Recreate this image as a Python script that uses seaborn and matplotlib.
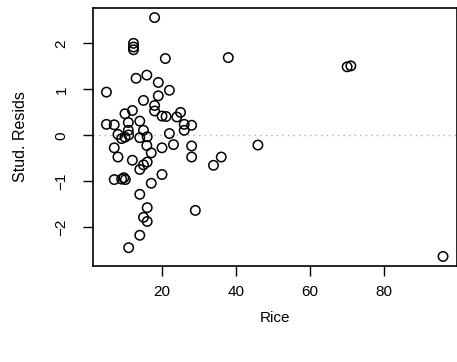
import matplotlib
matplotlib.use("Agg")
import matplotlib.pyplot as plt
import seaborn as sns
import pandas as pd

rice = [18.0, 12.3, 12.3, 12.3, 20.9, 13.0, 15.9, 19.0, 5.0, 22.0,
        15.0, 19.0, 18.0, 18.0, 12.0, 10.0, 20.0, 21.1, 25.0, 24.0,
        14.0, 10.9, 5.0, 7.1, 10.9, 15.0, 26.0, 28.0, 26.0, 8.1,
        9.1, 10.0, 11.0, 14.0, 16.0, 22.0, 7.1, 15.9, 20.0, 23.1,
        28.0, 8.1, 17.1, 12.0, 28.0, 16.0, 15.0, 14.0, 20.0, 7.1,
        9.1, 9.7, 10.1, 17.1, 14.0, 16.0, 15.0, 16.0, 14.0, 11.0,
        29.0, 37.9, 70.0, 71.0, 33.9, 36.0, 45.9, 95.9]
stud_resids = [2.56, 2.00, 1.92, 1.86, 1.67, 1.24, 1.31, 1.15, 0.94, 0.98,
               0.76, 0.86, 0.65, 0.53, 0.54, 0.47, 0.42, 0.41, 0.50, 0.40,
               0.31, 0.28, 0.24, 0.23, 0.11, 0.11, 0.24, 0.22, 0.11, 0.02,
               -0.07, -0.04, 0.01, -0.05, -0.03, 0.04, -0.27, -0.22, -0.27, -0.20,
               -0.23, -0.47, -0.38, -0.54, -0.47, -0.58, -0.64, -0.74, -0.85, -0.96,
               -0.95, -0.92, -0.96, -1.04, -1.28, -1.57, -1.78, -1.87, -2.17, -2.44,
               -1.63, 1.69, 1.49, 1.51, -0.65, -0.47, -0.21, -2.63]
x_ticks = [20, 40, 60, 80]
y_ticks = [-2, -1, 0, 1, 2]

sns.set_style("ticks")
plt.rcParams['font.family'] = ['Liberation Sans', 'DejaVu Sans']
plt.rcParams['text.color'] = 'black'
plt.rcParams['axes.labelcolor'] = 'black'
plt.rcParams['xtick.color'] = 'black'
plt.rcParams['ytick.color'] = 'black'
plt.rcParams['axes.edgecolor'] = 'black'

df = pd.DataFrame({"Rice": rice, "Stud. Resids": stud_resids})

fig = plt.figure(figsize=(4.57, 3.62), dpi=100)
ax = fig.add_axes([93/457, 96/362, (457-93.5)/457, (266-8)/362])

sns.scatterplot(data=df, x="Rice", y="Stud. Resids", ax=ax,
                facecolor="none", edgecolor="black", linewidth=1.1, s=46,
                marker="o", zorder=3)
ax.axhline(0, color="#b0b0b0", linestyle=(0, (1, 3)), linewidth=1.0, zorder=1)

xr = max(rice) - min(rice)
yr = max(stud_resids) - min(stud_resids)
ax.set_xlim(min(rice) - 0.04 * xr, max(rice) + 0.04 * xr)
ax.set_ylim(min(stud_resids) - 0.04 * yr, max(stud_resids) + 0.04 * yr)

ax.set_xticks(x_ticks)
ax.set_yticks(y_ticks)
ax.set_xticklabels([str(t) for t in x_ticks], fontsize=11)
ax.set_yticklabels(["\u2212" + str(-t) if t < 0 else str(t) for t in y_ticks],
                   fontsize=11, rotation=90, va="center")
ax.tick_params(axis="both", direction="out", length=7.5, width=1.0, color="black")
ax.tick_params(axis="x", pad=6)
ax.tick_params(axis="y", pad=10)

for sp in ax.spines.values():
    sp.set_visible(True)
    sp.set_linewidth(1.2)
    sp.set_color("black")

ax.set_xlabel("Rice", fontsize=11, labelpad=9)
ax.set_ylabel("Stud. Resids", fontsize=11.5, labelpad=19)
ax.grid(False)

fig.savefig("out.png", dpi=100)
